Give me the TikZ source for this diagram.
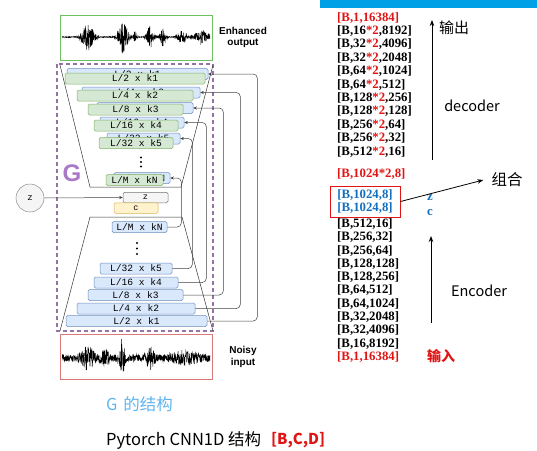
\documentclass[tikz,border=0pt]{standalone}
\usepackage{fontspec}
\setmainfont{Liberation Serif}
\newfontfamily\cjk{Noto Sans CJK SC}
\newfontfamily\helv{Liberation Sans}
\newfontfamily\couri{Liberation Mono}
\usetikzlibrary{arrows.meta, positioning, calc}
\definecolor{gblue}{RGB}{218,232,252}
\definecolor{gbluedraw}{RGB}{108,142,191}
\definecolor{ggreen}{RGB}{213,232,212}
\definecolor{ggreendraw}{RGB}{130,179,102}
\definecolor{gyellow}{RGB}{255,242,204}
\definecolor{gyellowdraw}{RGB}{214,182,86}
\definecolor{ggray}{RGB}{245,245,245}
\definecolor{gpurple}{RGB}{150,115,166}
\definecolor{gletter}{RGB}{170,120,200}
\definecolor{wgreen}{RGB}{110,190,100}
\definecolor{wred}{RGB}{220,120,120}
\definecolor{sred}{RGB}{225,20,20}
\definecolor{sblue}{RGB}{20,110,190}
\definecolor{bartop}{RGB}{0,160,230}
\definecolor{captblue}{RGB}{95,180,240}
\tikzset{
  %% ---- boxes ----
  enclayer/.style = {rectangle, rounded corners=1.5pt,
                   draw=gbluedraw, line width=0.5pt, fill=gblue,
                   minimum width=#1, minimum height=11pt, inner sep=0pt,
                   font=\couri\fontsize{9.6}{9.6}\selectfont},
  declayer/.style = {enclayer=#1, draw=ggreendraw, fill=ggreen},
  wavebox/.style  = {rectangle, draw=#1, line width=0.6pt,
                   minimum width=152pt, minimum height=45pt},
  latent/.style   = {rectangle, rounded corners=1.5pt, line width=0.5pt,
                   minimum width=45pt, minimum height=10.5pt, inner sep=0pt,
                   font=\couri\fontsize{8.5}{8.5}\selectfont},
  sidelabel/.style= {align=center, inner sep=0pt,
                   font=\helv\bfseries\fontsize{10}{11.5}\selectfont},
  shapeline/.style= {anchor=west, inner sep=0pt,
                   font=\bfseries\fontsize{12.8}{13}\selectfont},
  note/.style     = {inner sep=0pt, font=\cjk\fontsize{15}{15}\selectfont},
  dotmark/.style  = {circle, fill=black, inner sep=0pt, minimum size=2.4pt},
  %% ---- arrows ----
  skip/.style     = {-{Stealth[length=3.5pt,width=3pt]}, line width=0.5pt,
                   draw=black!75, rounded corners=4pt},
  thinarrow/.style= {-{Stealth[length=6pt,width=4.5pt]}, line width=0.8pt},
  wave/.style     = {line width=0.45pt, black},
}
\newcommand{\dbl}{\textcolor{sred}{*2}}

\begin{document}
\begin{tikzpicture}[x=1pt, y=-1pt,
  declare function={bump(\t,\m,\s)=exp(-((\t-\m)/\s)*((\t-\m)/\s));
    envA(\t)=0.5+13*bump(\t,88,6)+17*bump(\t,123,5)+5*bump(\t,135,1.5)
      +11*bump(\t,150,3.5)+9*bump(\t,163,3)+7*bump(\t,182,4)+6*bump(\t,202,8);
    envB(\t)=3.5+9*bump(\t,88,7)+16*bump(\t,122,2.5)+6*bump(\t,105,4)
      +9*bump(\t,150,4)+5*bump(\t,185,12);}]

  \useasboundingbox (0,0) rectangle (537,450);
  \fill[bartop] (320,0) rectangle (537,8);

  %% waveforms
  \node[wavebox=wgreen] (enh) at (136,37.5) {};
  \node[wavebox=wred] (noisy) at (136,357) {};
  \pgfmathsetseed{7}
  \draw[wave] plot[domain=62:210, samples=700] (\x,{37+envA(\x)*rand});
  \draw[wave] plot[domain=62:210, samples=700] (\x,{358+envB(\x)*rand});
  \node[sidelabel] (enhlab) at (243,37.5) {Enhanced\\output};
  \node[sidelabel] (noisylab) at (243,357) {Noisy\\input};

  %% generator G
  \draw[gpurple, line width=1.3pt, dash pattern=on 4pt off 3pt]
    (57,64) rectangle (213,331);
  \draw[line width=0.5pt, black!80] (60,65) -- (90,187) -- (181,187) -- (213,65);
  \draw[line width=0.5pt, black!80] (60,331) -- (90,217) -- (182,217) -- (213,331);
  \node[text=gletter, inner sep=0pt, font=\helv\bfseries\fontsize{24}{24}\selectfont]
    (glab) at (72,173) {G};

  \foreach \n/\den/\kk/\bx/\by/\bw/\gx/\gy/\gw in
    {1/2/1/137.5/74/141/135/78.5/140, 2/4/2/141/92.5/118/135/95.5/116,
     3/8/3/145/108/96/135.5/109.5/95, 4/16/4/142/122.5/84/136/125.5/84,
     5/32/5/143.5/138.5/73/136/143/74, N/M/N/142/178/56/134.5/180/57}{
    \node[enclayer=\bw pt] (b\n) at (\bx,\by) {L/\den{} x k\kk};
    \node[declayer=\gw pt] (d\n) at (\gx,\gy) {L/\den{} x k\kk};
  }
  \foreach \n/\den/\kk/\ex/\ey/\ew in
    {N/M/N/139.5/227/55, 5/32/5/136/268.5/72, 4/16/4/136/282.5/84,
     3/8/3/135.5/295/95, 2/4/2/136/308.5/118, 1/2/1/136.5/321/141}{
    \node[enclayer=\ew pt] (e\n) at (\ex,\ey) {L/\den{} x k\kk};
  }
  \foreach \i/\dy in {1/157.5, 2/162, 3/166.5, 4/243, 5/248.5, 6/254}{
    \node[dotmark] (dot\i) at ({\i<4 ? 141 : 137},\dy) {};
  }

  %% latent z and c
  \node[circle, draw=black!45, fill=ggray, line width=0.5pt, minimum size=28pt,
        inner sep=0pt, font=\couri\fontsize{9}{9}\selectfont] (zin) at (30,198) {z};
  \node[latent, draw=black!55, fill=ggray] (zbox) at (145.5,197.5) {z};
  \node[latent, draw=gyellowdraw, fill=gyellow, minimum width=44pt] (cbox) at (136,208) {c};
  \draw[skip] (zin.east) -- (zbox.west);

  %% skip connections
  \foreach \n/\dx in {1/50, 2/45, 3/40, 4/28, 5/20, N/14}{
    \draw[skip] (e\n.east) -- ++(\dx,0) |- (b\n.east);
  }

  %% tensor shapes
  \node[shapeline, text=sred] (r0) at (337,18) {[B,1,16384]};
  \foreach \lbl [count=\i from 0] in
    {{[B,16\dbl,8192]}, {[B,32\dbl,4096]}, {[B,32\dbl,2048]}, {[B,64\dbl,1024]},
     {[B,64\dbl,512]}, {[B,128\dbl,256]}, {[B,128\dbl,128]}, {[B,256\dbl,64]},
     {[B,256\dbl,32]}, {[B,512\dbl,16]}}{
    \node[shapeline] (dec\i) at (337,{31+13.4*\i}) {\lbl};
  }
  \node[shapeline, text=sred] (cat) at (337,174) {[B,1024*2,8]};
  \node[shapeline, anchor=center, align=left, text=sblue, draw=sred, line width=1pt,
        minimum width=70pt, minimum height=31pt] (zc) at (365,201.5)
    {[B,1024,8]\\{[B,1024,8]}};
  \foreach \lbl [count=\i from 0] in
    {{[B,512,16]}, {[B,256,32]}, {[B,256,64]}, {[B,128,128]}, {[B,128,256]},
     {[B,64,512]}, {[B,64,1024]}, {[B,32,2048]}, {[B,32,4096]}, {[B,16,8192]},
     {\textcolor{sred}{[B,1,16384]}}}{
    \node[shapeline] (enc\i) at (337,{224+13.3*\i}) {\lbl};
  }
  \node[shapeline, anchor=center, text=sblue] (zlab) at (430,198) {z};
  \node[shapeline, anchor=center, text=sblue] (clab) at (430,213) {c};

  %% directions
  \node[note, font=\cjk\fontsize{15.5}{15.5}\selectfont] (zuhe) at (507,180) {组合};
  \draw[thinarrow] (zc.east) -- ([xshift=-8pt]zuhe.west);
  \coordinate (decbot) at (432,160);
  \coordinate (dectop) at (432,20);
  \draw[thinarrow] (decbot) -- (dectop);
  \node[note] (shuchu) at (454,28) {输出};
  \node[note, font=\cjk\fontsize{14.5}{14.5}\selectfont] (declab) at (472,106) {decoder};
  \coordinate (encbot) at (431,323);
  \coordinate (enctop) at (431,236);
  \draw[thinarrow] (encbot) -- (enctop);
  \node[note, font=\cjk\fontsize{14.5}{14.5}\selectfont] (enclab) at (479,291) {Encoder};
  \node[note, text=sred, font=\cjk\bfseries\fontsize{14}{14}\selectfont] (shuru) at (441,356) {输入};

  %% captions
  \node[note, text=captblue, anchor=west, font=\cjk\fontsize{16.5}{16.5}\selectfont]
    (gcap) at (106,404) {G\hspace{2pt} 的结构};
  \node[note, anchor=west, font=\cjk\fontsize{16.5}{16.5}\selectfont]
    (cnncap) at (106,440) {Pytorch CNN1D 结构};
  \node[note, anchor=west, text=sred, font=\cjk\bfseries\fontsize{15}{15}\selectfont]
    (bcd) at (271,440) {[B,C,D]};

\end{tikzpicture}
\end{document}
